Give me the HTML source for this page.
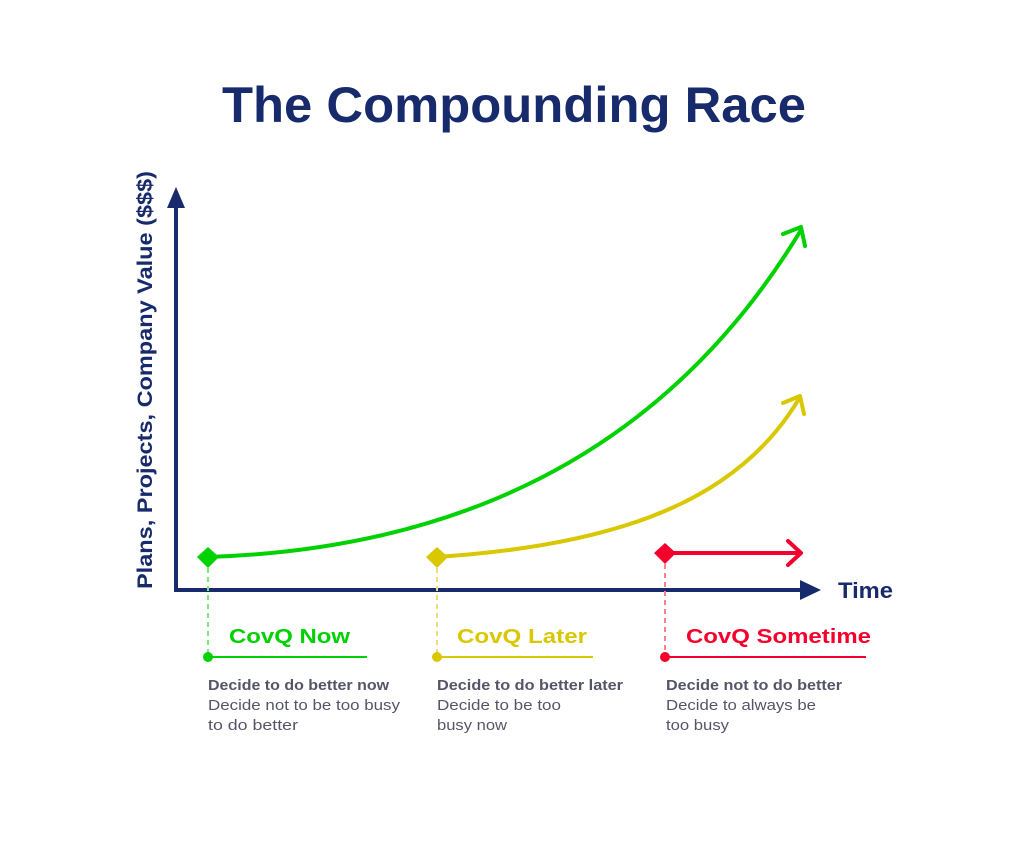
<!DOCTYPE html>
<html><head><meta charset="utf-8"><style>html,body{margin:0;padding:0;background:#fff;}svg{display:block;}</style></head>
<body>
<svg width="1024" height="846" viewBox="0 0 1024 846" xmlns="http://www.w3.org/2000/svg" font-family="Liberation Sans, sans-serif">
<rect width="1024" height="846" fill="#fff"/>
<text x="514" y="122" text-anchor="middle" font-size="50" font-weight="bold" fill="#172a6b" textLength="584" lengthAdjust="spacingAndGlyphs">The Compounding Race</text>
<text transform="translate(152,380) rotate(-90)" text-anchor="middle" font-size="21" font-weight="bold" fill="#172a6b" textLength="418" lengthAdjust="spacingAndGlyphs">Plans, Projects, Company Value ($$$)</text>
<!-- axes -->
<line x1="176" y1="205" x2="176" y2="592" stroke="#172a6b" stroke-width="4"/>
<line x1="174" y1="590" x2="805" y2="590" stroke="#172a6b" stroke-width="4"/>
<polygon points="176,187 167,208 185,208" fill="#172a6b"/>
<polygon points="821,590 800,580 800,600" fill="#172a6b"/>
<text x="838" y="598" font-size="22" font-weight="bold" fill="#172a6b" textLength="55" lengthAdjust="spacingAndGlyphs">Time</text>
<!-- green -->
<path d="M208,557 C420,550 650,480 801,230" fill="none" stroke="#00d100" stroke-width="4"/>
<polyline points="783,234 801,227 805,246" fill="none" stroke="#00d100" stroke-width="4" stroke-linecap="round" stroke-linejoin="round"/>
<polygon points="208,547 219,557 208,568 197,557" fill="#00d100"/>
<!-- yellow -->
<path d="M437,557 C620,545 740,500 800,397" fill="none" stroke="#d9c700" stroke-width="4"/>
<polyline points="783,403 800,396 804,414" fill="none" stroke="#d9c700" stroke-width="4" stroke-linecap="round" stroke-linejoin="round"/>
<polygon points="437,547 448,557 437,568 426,557" fill="#d9c700"/>
<!-- red -->
<line x1="665" y1="553" x2="800" y2="553" stroke="#f5002c" stroke-width="4"/>
<polyline points="788,541 801,553 788,565" fill="none" stroke="#f5002c" stroke-width="4" stroke-linecap="round" stroke-linejoin="round"/>
<polygon points="665,543 676,553 665,564 654,553" fill="#f5002c"/>
<!-- dashed -->
<line x1="208" y1="568" x2="208" y2="655" stroke="#7ee87e" stroke-width="2" stroke-dasharray="5,4"/>
<line x1="437" y1="568" x2="437" y2="655" stroke="#eadf7a" stroke-width="2" stroke-dasharray="5,4"/>
<line x1="665" y1="564" x2="665" y2="655" stroke="#f8808f" stroke-width="2" stroke-dasharray="5,4"/>
<!-- labels -->
<circle cx="208" cy="657" r="5" fill="#00d100"/><line x1="208" y1="657" x2="367" y2="657" stroke="#00d100" stroke-width="2"/>
<circle cx="437" cy="657" r="5" fill="#d9c700"/><line x1="437" y1="657" x2="593" y2="657" stroke="#d9c700" stroke-width="2"/>
<circle cx="665" cy="657" r="5" fill="#f5002c"/><line x1="665" y1="657" x2="866" y2="657" stroke="#f5002c" stroke-width="2"/>
<text x="229" y="643" font-size="20" font-weight="bold" fill="#00d100" textLength="121" lengthAdjust="spacingAndGlyphs">CovQ Now</text>
<text x="457" y="643" font-size="20" font-weight="bold" fill="#d9c700" textLength="130" lengthAdjust="spacingAndGlyphs">CovQ Later</text>
<text x="686" y="643" font-size="20" font-weight="bold" fill="#f5002c" textLength="185" lengthAdjust="spacingAndGlyphs">CovQ Sometime</text>
<g font-size="15" fill="#555568">
<text x="208" y="690" font-weight="bold" textLength="181" lengthAdjust="spacingAndGlyphs">Decide to do better now</text>
<text x="208" y="710" textLength="192" lengthAdjust="spacingAndGlyphs">Decide not to be too busy</text>
<text x="208" y="730" textLength="90" lengthAdjust="spacingAndGlyphs">to do better</text>
<text x="437" y="690" font-weight="bold" textLength="186" lengthAdjust="spacingAndGlyphs">Decide to do better later</text>
<text x="437" y="710" textLength="124" lengthAdjust="spacingAndGlyphs">Decide to be too</text>
<text x="437" y="730" textLength="70" lengthAdjust="spacingAndGlyphs">busy now</text>
<text x="666" y="690" font-weight="bold" textLength="176" lengthAdjust="spacingAndGlyphs">Decide not to do better</text>
<text x="666" y="710" textLength="150" lengthAdjust="spacingAndGlyphs">Decide to always be</text>
<text x="666" y="730" textLength="63" lengthAdjust="spacingAndGlyphs">too busy</text>
</g>
</svg>
</body></html>
